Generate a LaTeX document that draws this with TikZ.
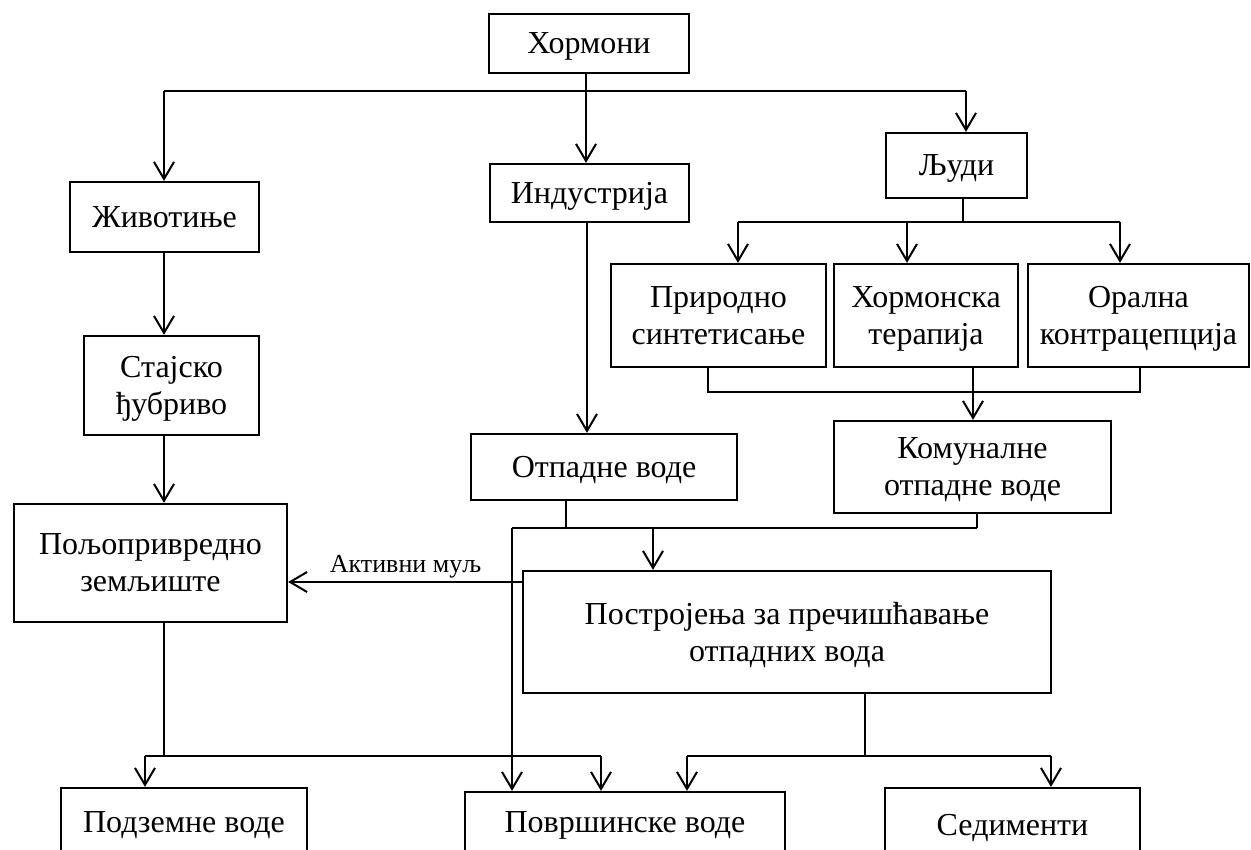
\documentclass[tikz,border=0pt]{standalone}
\usepackage{fontspec}
\setmainfont{Liberation Serif}
\usetikzlibrary{arrows.meta}
\tikzset{
  box/.style={draw, line width=2.2pt, inner sep=0pt, align=center, text depth=0pt, font=\fontsize{32}{37}\selectfont},
  arr/.style={line width=2pt, -{Straight Barb[length=17pt,width=20pt,line width=2pt]}},
  conn/.style={line width=1.6pt},
  lbl/.style={font=\fontsize{26}{30}\selectfont, inner sep=3pt}
}
\begin{document}
\begin{tikzpicture}[x=1pt,y=-1pt]
\useasboundingbox (0,0) rectangle (1251,850);

% boxes
\node[box, minimum width=200pt, minimum height=59pt] (hor) at (589,43.5) {Хормони};
\node[box, minimum width=189pt, minimum height=70pt] (ziv) at (164.5,217) {Животиње};
\node[box, minimum width=199pt, minimum height=58pt] (ind) at (589.5,193) {Индустрија};
\node[box, minimum width=141pt, minimum height=65pt] (ljudi) at (956.5,165.5) {Људи};
\node[box, minimum width=215pt, minimum height=103pt] (pri) at (718.5,315.5) {Природно\\синтетисање};
\node[box, minimum width=184pt, minimum height=103pt] (ter) at (926,315.5) {Хормонска\\терапија};
\node[box, minimum width=221pt, minimum height=103pt] (ora) at (1138.5,315.5) {Орална\\контрацепција};
\node[box, minimum width=277pt, minimum height=92pt] (kom) at (972.5,467) {Комуналне\\отпадне воде};
\node[box, minimum width=175pt, minimum height=99pt] (staj) at (171.5,385.5) {Стајско\\ђубриво};
\node[box, minimum width=266pt, minimum height=66pt] (otp) at (604,467) {Отпадне воде};
\node[box, minimum width=273pt, minimum height=118pt] (polj) at (150.5,563) {Пољопривредно\\земљиште};
\node[box, minimum width=528pt, minimum height=122pt] (post) at (787,632) {Постројења за пречишћавање\\отпадних вода};
\node[box, minimum width=246pt, minimum height=68pt] (podz) at (184,822) {Подземне воде};
\node[box, minimum width=320pt, minimum height=61pt] (pov) at (625,822.5) {Површинске воде};
\node[box, minimum width=255pt, minimum height=74pt] (sed) at (1012.5,825) {Седименти};

% junction coordinates
\coordinate (h0) at (586,91);
\coordinate (h1) at (164,91);
\coordinate (h2) at (966,91);
\coordinate (ljs) at (963,222);
\coordinate (lj1) at (738,222);
\coordinate (lj2) at (907,222);
\coordinate (lj3) at (1120,222);
\coordinate (cl) at (708,392);
\coordinate (cm) at (973,392);
\coordinate (cr) at (1140,392);
\coordinate (ia) at (587,300);
\coordinate (o0) at (512,528);
\coordinate (o1) at (566,528);
\coordinate (pa) at (653,528);
\coordinate (k1) at (977,528);
\coordinate (am) at (523,582);
\coordinate (p0) at (164,756);
\coordinate (p1) at (145,756);
\coordinate (p2) at (601,756);
\coordinate (s0) at (865,756);
\coordinate (s1) at (687,756);
\coordinate (s2) at (1051,756);

% top level
\draw[conn] (h1) -- (h2);
\draw[arr] (h0 |- hor.south) -- (h0 |- ind.north);
\draw[arr] (h1) -- (h1 |- ziv.north);
\draw[arr] (h2) -- (h2 |- ljudi.north);

% animals branch
\draw[arr] (h1 |- ziv.south) -- (h1 |- staj.north);
\draw[arr] (h1 |- staj.south) -- (h1 |- polj.north);

% people branch
\draw[conn] (ljs |- ljudi.south) -- (ljs);
\draw[conn] (lj1) -- (lj3);
\draw[arr] (lj1) -- (lj1 |- pri.north);
\draw[arr] (lj2) -- (lj2 |- ter.north);
\draw[arr] (lj3) -- (lj3 |- ora.north);
\draw[conn] (cl |- pri.south) -- (cl) -- (cr) -- (cr |- ora.south);
\draw[arr] (cm |- ter.south) -- (cm |- kom.north);

% industry branch
\draw[arr] (ia |- ind.south) -- (ia |- otp.north);

% waste waters
\draw[conn] (o1 |- otp.south) -- (o1);
\draw[conn] (k1 |- kom.south) -- (k1);
\draw[conn] (o0) -- (k1);
\draw[arr] (pa) -- (pa |- post.north);
\draw[arr] (o0) -- (o0 |- pov.north);

% activated sludge
\draw[arr] (am) -- (am -| polj.east) node[lbl, midway, above] {Активни муљ};

% agricultural land
\draw[conn] (p0 |- polj.south) -- (p0);
\draw[conn] (p1) -- (p2);
\draw[arr] (p1) -- (p1 |- podz.north);
\draw[arr] (p2) -- (p2 |- pov.north);

% treatment plant
\draw[conn] (s0 |- post.south) -- (s0);
\draw[conn] (s1) -- (s2);
\draw[arr] (s1) -- (s1 |- pov.north);
\draw[arr] (s2) -- (s2 |- sed.north);
\end{tikzpicture}
\end{document}
